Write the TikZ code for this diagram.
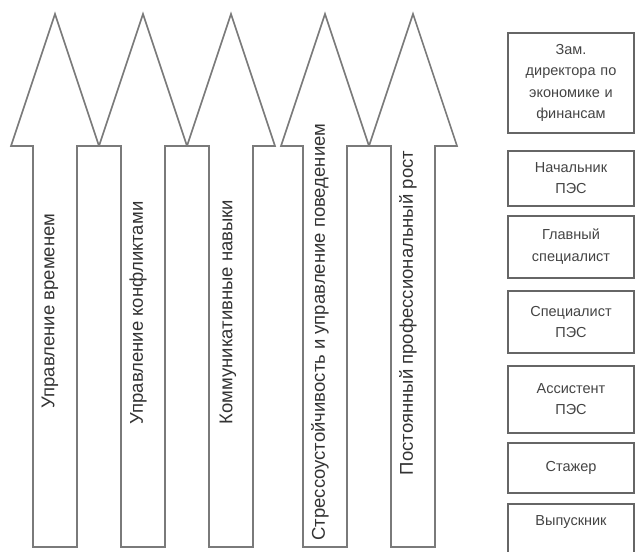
\documentclass[tikz,border=0pt]{standalone}
\usepackage{fontspec}
\setmainfont{Liberation Sans}
\definecolor{edge}{HTML}{7A7A7A}
\definecolor{boxedge}{HTML}{666666}
\definecolor{ink}{HTML}{333333}
\definecolor{softink}{HTML}{444444}
\begin{document}
\begin{tikzpicture}[x=1pt, y=1pt,
    outline/.style={draw=edge, line width=1.6pt},
    skill/.style={rotate=90, text=ink, inner sep=0pt, font=\fontsize{18.5}{22}\selectfont},
    post/.style={draw=boxedge, line width=1.6pt, anchor=north, minimum width=126pt,
        text width=116pt, align=center, text=softink, font=\fontsize{14.5}{21.5}\selectfont}]
    \useasboundingbox (0,0) rectangle (636,551);

    % Arrows
    \foreach \x in {55,143,231,325,413} {
        \draw[outline] ({\x-22},4) -- ({\x-22},405) -- ({\x-44},405) -- (\x,537)
            -- ({\x+44},405) -- ({\x+22},405) -- ({\x+22},4) -- cycle;
    }

    % Skills
    \node[skill] (time) at (50,240) {Управление временем};
    \node[skill] (conflict) at (138,238) {Управление конфликтами};
    \node[skill] (comm) at (228,239) {Коммуникативные навыки};
    \node[skill] (stress) at (320,219) {Стрессоустойчивость и управление поведением};
    \node[skill] (growth) at (408,238) {Постоянный профессиональный рост};

    % Positions
    \foreach \n/\y/\h/\t in {
            deputy/519/100/{Зам.\\директора по\\экономике и\\финансам},
            head/401/55/{Начальник\\ПЭС},
            chief/336/62/{Главный\\специалист},
            spec/261/62/{Специалист\\ПЭС},
            assistant/186/67/{Ассистент\\ПЭС},
            intern/109/50/{Стажер}
            } {
        \node[post, minimum height=\h] (\n) at (571,\y) {\t};
    }
    \node[post, minimum height=50, text depth=16pt] (graduate) at (571,48) {Выпускник};
\end{tikzpicture}
\end{document}
